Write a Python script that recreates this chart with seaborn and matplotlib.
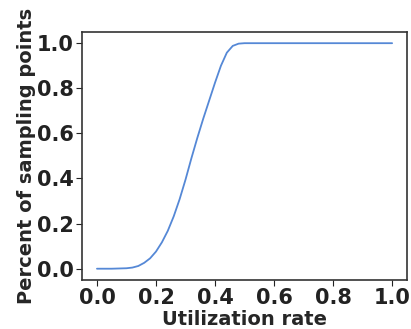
import numpy as np
import pandas as pd
import matplotlib
matplotlib.use("Agg")
import matplotlib.pyplot as plt
import seaborn as sns

# CDF of utilization rate
util_rate = [0.0, 0.05, 0.10, 0.12, 0.14, 0.16, 0.18, 0.20, 0.22, 0.24, 0.26, 0.28,
             0.30, 0.32, 0.34, 0.36, 0.38, 0.40, 0.42, 0.44, 0.46, 0.48, 0.50,
             0.6, 0.7, 0.8, 0.9, 1.0]
pct_points = [0.0, 0.0, 0.002, 0.005, 0.012, 0.026, 0.046, 0.076, 0.117, 0.168, 0.232, 0.308,
              0.395, 0.49, 0.58, 0.665, 0.745, 0.825, 0.9, 0.958, 0.988, 0.998, 1.0,
              1.0, 1.0, 1.0, 1.0, 1.0]

df = pd.DataFrame({'util': util_rate, 'pct': pct_points})

sns.set_style('ticks')
plt.rcParams['font.family'] = ['DejaVu Sans']
plt.rcParams['font.weight'] = 'bold'

fig, ax = plt.subplots(figsize=(4.11, 3.29), dpi=100)
sns.lineplot(data=df, x='util', y='pct', color='#5588d6', linewidth=1.3, ax=ax)

ax.set_xlabel('Utilization rate', fontsize=14, fontweight='bold', labelpad=1)
ax.set_ylabel('Percent of sampling points', fontsize=14, fontweight='bold', labelpad=1)
ax.set_xticks([0.0, 0.2, 0.4, 0.6, 0.8, 1.0])
ax.set_yticks([0.0, 0.2, 0.4, 0.6, 0.8, 1.0])
ax.tick_params(labelsize=15, colors='#222222', length=4, pad=2)
for lbl in ax.get_xticklabels() + ax.get_yticklabels():
    lbl.set_fontweight('bold')
for s in ax.spines.values():
    s.set_color('#333333')
    s.set_linewidth(1.2)

fig.subplots_adjust(left=0.2, right=0.99, top=0.903, bottom=0.149)
fig.savefig('out.png', dpi=100)
